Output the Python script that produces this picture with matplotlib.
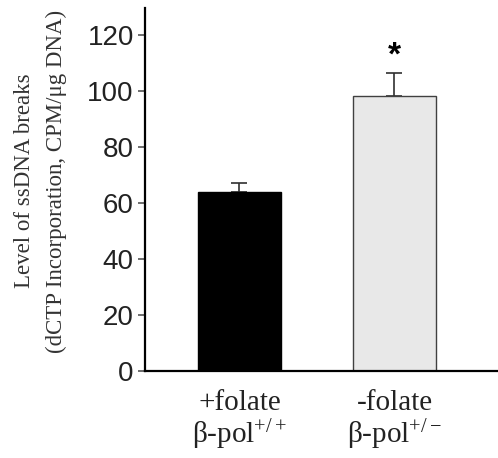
import matplotlib

matplotlib.use("Agg")
import matplotlib.pyplot as plt

# data
groups = ["+folate\nβ-pol$^{+/+}$", "-folate\nβ-pol$^{+/-}$"]
values = [64, 98]
errors = [3, 8.5]
fills = ["black", "#e8e8e8"]
y_ticks = [0, 20, 40, 60, 80, 100, 120]

plt.rcParams["mathtext.fontset"] = "custom"
plt.rcParams["mathtext.rm"] = "Liberation Serif"
plt.rcParams["mathtext.it"] = "Liberation Serif:italic"
plt.rcParams["mathtext.default"] = "rm"

fig = plt.figure(figsize=(4.98, 4.58), dpi=100)
ax = fig.add_axes([0.291, 0.19, 0.709, 0.7926])

x = range(len(values))
ax.bar(x, values, width=0.535, color=fills, edgecolor=["black", "#404040"],
       linewidth=1.0, zorder=2)
ax.errorbar(x, values, yerr=[[0] * len(errors), errors], fmt="none",
            ecolor="#303030", elinewidth=1.2, capsize=6, capthick=1.2, zorder=1)
ax.text(1, values[1] + errors[1] + 0.5, "*", ha="center", va="bottom",
        fontsize=24, fontweight="bold", family="Liberation Sans")

ax.set_xlim(-0.61, 1.668)
ax.set_ylim(0, 129.6)
ax.set_yticks(y_ticks)
ax.set_yticklabels([str(t) for t in y_ticks], family="Liberation Sans",
                   fontsize=20, color="#222222")
ax.set_xticks(list(x))
ax.set_xticklabels(groups, family="Liberation Serif", fontsize=21,
                   linespacing=1.05, color="#222222")
ax.tick_params(axis="x", length=0, pad=14)
ax.tick_params(axis="y", length=5, width=1.2, pad=3, color="#555555")
ax.spines[["top", "right"]].set_visible(False)
ax.spines[["left", "bottom"]].set_linewidth(1.6)

ax.set_ylabel("Level of ssDNA breaks\n(dCTP Incorporation, CPM/μg DNA)",
              family="Liberation Serif", fontsize=16.5, color="#333333",
              linespacing=1.65)
ax.yaxis.set_label_coords(-0.221, 0.523)

fig.savefig("out.png", dpi=100)
